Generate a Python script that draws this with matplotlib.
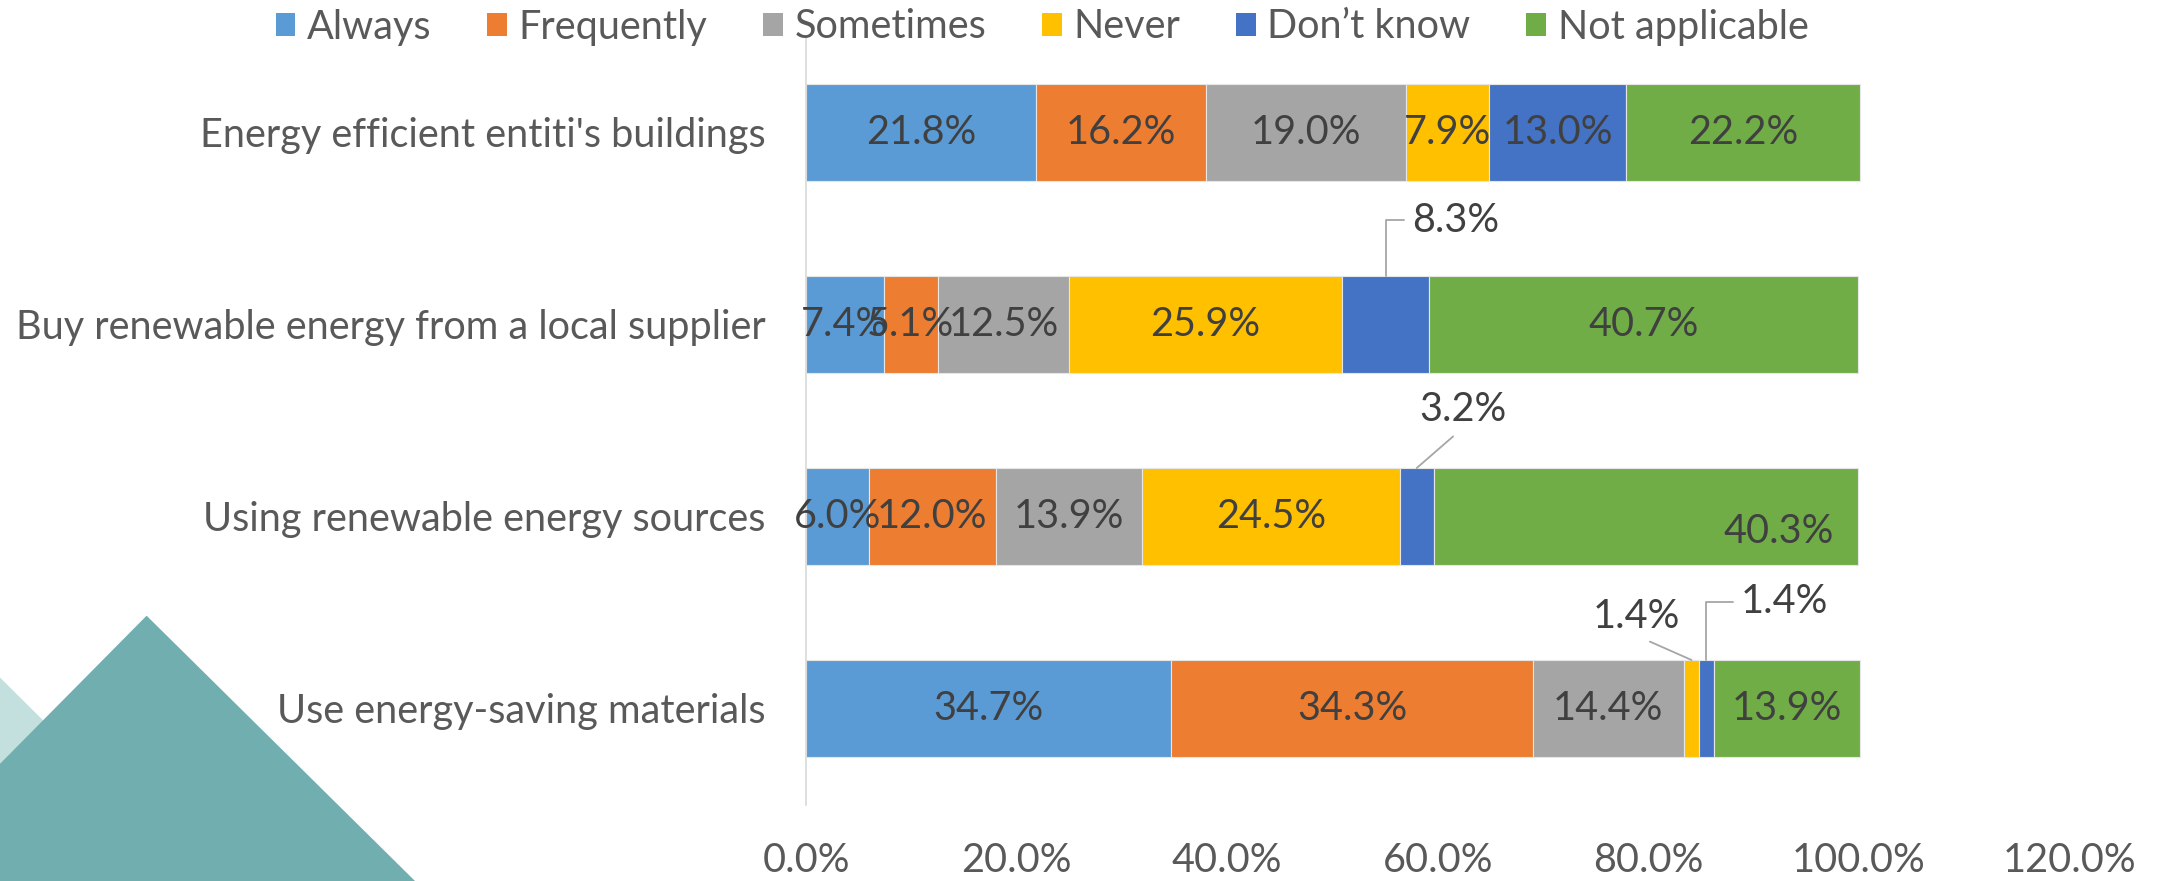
import matplotlib.pyplot as plt
from matplotlib.patches import Polygon, Patch

plt.rcParams['font.family'] = ['Lato', 'DejaVu Sans']

# data
categories = ["Energy efficient entiti's buildings",
              "Buy renewable energy from a local supplier",
              "Using renewable energy sources",
              "Use energy-saving materials"]
series = ["Always", "Frequently", "Sometimes", "Never", "Don\u2019t know", "Not applicable"]
always = [21.8, 7.4, 6.0, 34.7]
frequently = [16.2, 5.1, 12.0, 34.3]
sometimes = [19.0, 12.5, 13.9, 14.4]
never = [7.9, 25.9, 24.5, 1.4]
dont_know = [13.0, 8.3, 3.2, 1.4]
not_applicable = [22.2, 40.7, 40.3, 13.9]
xticks = [0, 20, 40, 60, 80, 100, 120]

values = [always, frequently, sometimes, never, dont_know, not_applicable]
colors = ['#5B9BD5', '#ED7D31', '#A5A5A5', '#FFC000', '#4472C4', '#70AD47']
FS = 28.5

# labels moved out of small segments (series index, row): offset in points
callouts = {
    (4, 1): dict(xytext=(19, 40), ha='left', style='elbow'),
    (4, 2): dict(xytext=(33, 42), ha='center', style='line'),
    (3, 3): dict(xytext=(-40, 31), ha='center', style='line'),
    (4, 3): dict(xytext=(25, 42), ha='left', style='elbow'),
}
moved = {(5, 2): (96, -11)}

W, H = 2164, 881
fig = plt.figure(figsize=(W / 100, H / 100), dpi=100)

def px(x, y):
    return (x / W, 1 - y / H)

# background triangles
light = Polygon([px(-60, 618), px(205, 881), px(-330, 881)], closed=True,
                transform=fig.transFigure, facecolor='#C3E0DE', edgecolor='none', zorder=0)
dark = Polygon([px(146.6, 615.7), px(415, 881), px(-116, 881)], closed=True,
               transform=fig.transFigure, facecolor='#70AEB0', edgecolor='none', zorder=1)
fig.patches.extend([light, dark])

ax = fig.add_axes([806 / W, 1 - 804.5 / H, (2069.6 - 806) / W, (804.5 - 36.5) / H])
ax.set_facecolor('none')

rows = list(range(len(categories)))
left = [0.0] * len(categories)
for i, (name, vals) in enumerate(zip(series, values)):
    ax.barh(rows, vals, left=left, height=0.505, color=colors[i],
            edgecolor='#E6E6E6', linewidth=0.8, label=name)
    for j, v in enumerate(vals):
        cx = left[j] + v / 2
        lab = f'{v:.1f}%'
        if (i, j) in callouts:
            c = callouts[(i, j)]
            if c['style'] == 'elbow':
                ap = dict(arrowstyle='-', color='#A6A6A6', lw=1.3, relpos=(0, 0.5),
                          shrinkA=4, shrinkB=0,
                          connectionstyle='angle,angleA=0,angleB=90,rad=0')
            else:
                ap = dict(arrowstyle='-', color='#A6A6A6', lw=1.3, relpos=(0.5, 0),
                          shrinkA=6, shrinkB=0)
            ax.annotate(lab, xy=(cx, j - 0.2525), xytext=c['xytext'],
                        textcoords='offset points', ha=c['ha'], va='center',
                        fontsize=FS, color='#404040', arrowprops=ap)
        else:
            off = moved.get((i, j), (0, 0))
            ax.annotate(lab, xy=(cx, j), xytext=off, textcoords='offset points',
                        ha='center', va='center', fontsize=FS, color='#404040')
        left[j] += v

ax.set_xlim(0, 120)
ax.set_ylim(3.5, -0.5)
ax.set_xticks(xticks)
ax.set_xticklabels([f'{t:.1f}%' for t in xticks])
ax.set_yticks(rows)
ax.set_yticklabels(categories)
ax.tick_params(axis='x', length=0, pad=27, labelsize=FS, labelcolor='#595959')
ax.tick_params(axis='y', length=0, pad=29, labelsize=FS, labelcolor='#595959')
for s in ['top', 'right', 'bottom']:
    ax.spines[s].set_visible(False)
ax.spines['left'].set_color('#D9D9D9')
ax.spines['left'].set_linewidth(1.2)

handles = [Patch(facecolor=c, edgecolor='none') for c in colors]
fig.legend(handles, series, loc='center', bbox_to_anchor=(1042 / W, 1 - 27 / H),
           ncol=6, frameon=False, fontsize=FS, labelcolor='#595959',
           handlelength=0.5, handleheight=0.5, handletextpad=0.3,
           columnspacing=1.4, borderaxespad=0, borderpad=0)

fig.savefig('out.png', dpi=100)
